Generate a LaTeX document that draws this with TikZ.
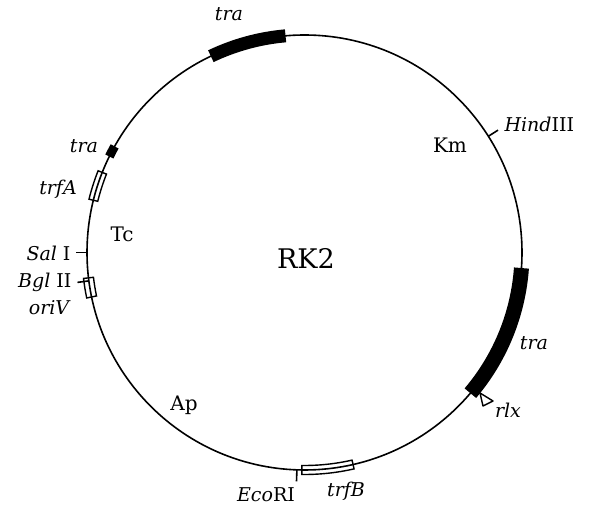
\documentclass[tikz,border=0pt]{standalone}
\usepackage{fontspec}
\setmainfont{DejaVu Serif}
\usetikzlibrary{calc}

% one feature box on the ring: start angle, end angle, half width
\newcommand{\genebox}[3]{%
  \draw[boxline] ($(c)+(#1:217.5-#3)$) arc[start angle=#1, end angle=#2, radius=217.5pt-#3pt]
    -- ($(c)+(#2:217.5+#3)$) arc[start angle=#2, end angle=#1, radius=217.5pt+#3pt] -- cycle;}
% one restriction site: angle
\newcommand{\sitetick}[1]{%
  \draw[ring] ($(c)+(#1:217.5)$) -- ($(c)+(#1:229)$);}

\begin{document}
\begin{tikzpicture}[x=1pt,y=1pt,
    ring/.style={line width=1.6pt},
    boxline/.style={line width=1.4pt},
    trabar/.style={line width=#1, line cap=butt},
    lbl/.style={font=\fontsize{19}{22}\selectfont\itshape},
    res/.style={font=\fontsize{20}{23}\selectfont}]
  \useasboundingbox (0,0) rectangle (590,506);
  \coordinate (c) at (304.5,253.5);

  % plasmid ring
  \draw[ring] (c) circle[radius=217.5pt];

  % tra regions
  \draw[trabar=13pt] ($(c)+(95:217.5)$) arc[start angle=95, end angle=115.5, radius=217.5pt];
  \draw[trabar=9pt] ($(c)+(150.8:217.5)$) arc[start angle=150.8, end angle=153.8, radius=217.5pt];
  \draw[trabar=15pt] ($(c)+(-40.3:217.5)$) arc[start angle=-40.3, end angle=-4.1, radius=217.5pt];

  % open boxes
  \genebox{158.4}{166.1}{4.5}
  \genebox{186.7}{191.8}{5}
  \genebox{269.3}{282.9}{4.5}

  % sites
  \sitetick{180}
  \sitetick{187.5}
  \sitetick{32.3}
  \sitetick{268}

  % rlx
  \draw[boxline, line join=round] (480,113) -- (493,105) -- (483,100) -- cycle;

  \node[lbl] (traT) at (229,492) {tra};
  \node[lbl, anchor=west] (hind) at (501,382) {Hind\upshape III};
  \node[res] (km) at (450,361) {Km};
  \node[lbl] (traL) at (84,360) {tra};
  \node[lbl] (trfA) at (58,317) {trfA};
  \node[res] (tc) at (122,272) {Tc};
  \node[lbl, anchor=east] (sal) at (74,253) {Sal\upshape\ I};
  \node[lbl, anchor=east] (bgl) at (75,224) {Bgl\upshape\ II};
  \node[lbl] (oriV) at (49,198) {oriV};
  \node[font=\fontsize{27}{30}\selectfont] (rk2) at (306,248) {RK2};
  \node[res] (ap) at (184,101) {Ap};
  \node[lbl] (traR) at (534,163) {tra};
  \node[lbl] (rlx) at (508,96) {rlx};
  \node[lbl] (eco) at (266,11) {Eco\upshape RI};
  \node[lbl] (trfB) at (346,15) {trfB};
\end{tikzpicture}
\end{document}
